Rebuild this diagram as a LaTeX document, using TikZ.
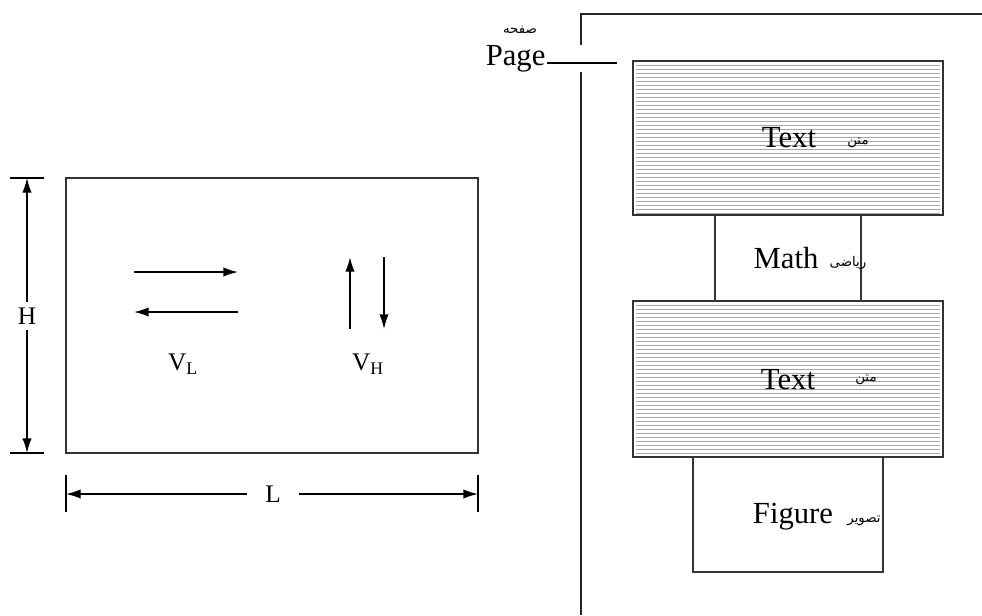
\documentclass[tikz,border=0pt]{standalone}
\usepackage{fontspec}
\setmainfont{Liberation Serif}
\newfontfamily\arabicfont[Script=Arabic]{DejaVu Sans}
\TeXXeTstate=1
\usetikzlibrary{arrows.meta,fit}
\tikzset{
  box/.style={draw=black!80, line width=1.1pt, inner sep=0pt},
  hatch/.style={draw=black!35, line width=0.4pt},
  lbl/.style={font=\fontsize{23}{26}\selectfont, inner sep=1pt},
  dimlbl/.style={font=\fontsize{19}{22}\selectfont, fill=white, inner sep=4pt},
  fa/.style={font=\arabicfont\fontsize{10}{12}\selectfont, inner sep=0pt},
  tipA/.tip={Latex[length=11pt,width=7pt]},
  flow/.style={line width=1.1pt, -tipA},
  dim/.style={line width=1pt, tipA-tipA},
  tick/.style={line width=0.9pt},
  edge/.style={line width=1.1pt, draw=black!85}
}
\begin{document}
\begin{tikzpicture}[x=0.75pt,y=-0.75pt]
\useasboundingbox (0,0) rectangle (982,615);
% ---------- left figure ----------
\node[box, fit={(66,178) (478,453)}] (chan) {};
% height dimension
\coordinate (hT) at (27,178);
\coordinate (hB) at (27,453);
\draw[tick] (10,178) -- (44,178);
\draw[tick] (10,453) -- (44,453);
\draw[dim] (hT) -- (hB);
\node[dimlbl] (H) at (27,316) {H};
% length dimension
\coordinate (lL) at (66,494);
\coordinate (lR) at (478,494);
\draw[tick] (66,475) -- (66,512);
\draw[tick] (478,475) -- (478,512);
\draw[dim] (lL) -- (lR);
\node[dimlbl, inner xsep=14pt] (L) at (273,494) {L};
% velocity arrows
\coordinate (a1s) at (134,272); \coordinate (a1e) at (238,272);
\coordinate (a2s) at (238,312); \coordinate (a2e) at (134,312);
\coordinate (a3s) at (350,329); \coordinate (a3e) at (350,257);
\coordinate (a4s) at (384,257); \coordinate (a4e) at (384,329);
\draw[flow] (a1s) -- (a1e);
\draw[flow] (a2s) -- (a2e);
\draw[flow] (a3s) -- (a3e);
\draw[flow] (a4s) -- (a4e);
\node[dimlbl, fill=none] (VL) at (183,364) {V\textsubscript{L}};
\node[dimlbl, fill=none] (VH) at (368,364) {V\textsubscript{H}};
% ---------- right figure (page) ----------
\draw[edge] (581,615) -- (581,72);
\draw[edge] (581,45) -- (581,14) -- (982,14);
\node[lbl, anchor=east] (page) at (547,59) {Page};
\node[fa] (pagefa) at (520,30) {\beginR صفحه\endR};
\coordinate (pageend) at (617,63);
\draw[line width=1pt] (page.east |- pageend) -- (pageend);
% Text box 1
\foreach \yy in {65,69,...,213} \draw[hatch] (636,\yy) -- (940,\yy);
\node[box, fit={(633,61) (943,215)}] (text1) {};
\node[lbl] (t1en) at (789,138) {Text};
\node[fa] (t1fa) at (858,143) {\beginR متن\endR};
% Math box
\node[box, fit={(715,215) (861,301)}] (math) {};
\node[lbl] (men) at (786,258) {Math};
\node[fa] (mfa) at (848,263) {\beginR ریاضی\endR};
% Text box 2
\foreach \yy in {305,309,...,455} \draw[hatch] (636,\yy) -- (940,\yy);
\node[box, fit={(633,301) (943,457)}] (text2) {};
\node[lbl] (t2en) at (788,380) {Text};
\node[fa] (t2fa) at (866,380) {\beginR متن\endR};
% Figure box
\node[box, fit={(693,457) (883,572)}] (fig) {};
\node[lbl] (fen) at (793,517) {Figure};
\node[fa] (ffa) at (864,521) {\beginR تصویر\endR};
\end{tikzpicture}
\end{document}
